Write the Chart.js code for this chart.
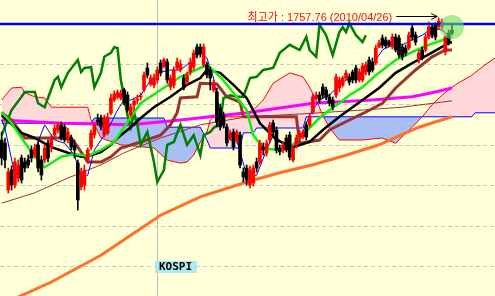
<!DOCTYPE html>
<html><head><meta charset="utf-8">
<script src="https://cdn.jsdelivr.net/npm/chart.js@4"></script>
<style>html,body{margin:0;padding:0;background:#FFFFD8;}canvas{display:block;}</style>
</head><body>
<canvas id="c" width="495" height="296"></canvas>
<script>
// ---- KOSPI daily candles (index points) ----
const open = [1605,1601.25,1542.5,1567.5,1548.75,1557.5,1582.5,1577.5,1580,1592.5,
1586.25,1598.75,1580,1580,1601.25,1595,1611.25,1617.5,1623.75,1621.25,
1605,1607.5,1598.75,1576.25,1546.25,1548.75,1580,1596.25,1611.25,1630,
1632.5,1611.25,1613.75,1638.75,1655,1658.75,1657.5,1667.5,1661.25,1636.25,
1648.75,1655,1658.75,1667.5,1695,1675,1673.75,1680,1701.25,1697.5,
1702.5,1671.25,1673.75,1695,1692.5,1682.5,1677.5,1690,1696.25,1721.25,
1721.25,1698.75,1698.75,1692.5,1667.5,1665,1645,1636.25,1621.25,1607.5,
1615,1605,1611.25,1565,1570,1548.75,1551.25,1577.5,1577.5,1596.25,
1588.75,1605,1626.25,1617.5,1595,1592.5,1607.5,1611.25,1580,1598.75,
1607.5,1608.75,1623.75,1623.75,1640,1657.5,1661.25,1671.25,1667.5,1658.75,
1655,1661.25,1670,1673.75,1682.5,1683.75,1690,1695,1680,1680,
1690,1705,1702.5,1701.25,1721.25,1732.5,1730,1727.5,1721.25,1733.75,
1732.5,1721.25,1720,1720,1745,1736.25,1705,1717.5,1717.5,1733.75,
1746.25,1748.75,1746.25,1746.25,1715,1738.75,1742.5];
const close = [1582.5,1580,1565,1548.75,1577.5,1573.75,1555,1570,1573.75,1582.5,
1595,1570,1561.25,1595,1582.5,1607.5,1620,1623.75,1607.5,1605,
1615,1596.25,1592.5,1530,1565,1567.5,1592.5,1613.75,1623.75,1627.5,
1621.25,1632.5,1633.75,1657.5,1662.5,1665,1663.75,1651.25,1642.5,1646.25,
1653.75,1656.25,1660,1686.25,1686.25,1682.5,1682.5,1692.5,1688.75,1705,
1680,1682.5,1692.5,1702.5,1700,1670,1686.25,1702.5,1713.75,1711.25,
1712.5,1721.25,1686.25,1682.5,1676.25,1627.5,1621.25,1623.75,1601.25,1613.75,
1596.25,1615,1573.75,1558.75,1555,1567.5,1570,1570,1601.25,1592.5,
1601.25,1623.75,1615,1592.5,1590,1598.75,1592.5,1583.75,1595,1607.5,
1613.75,1615,1608.75,1633.75,1658.75,1661.25,1655,1661.25,1658.75,1651.25,
1646.25,1683.75,1680,1682.5,1688.75,1677.5,1680,1680,1690,1697.5,
1698.75,1690,1692.5,1720,1726.25,1723.75,1722.5,1723.75,1733.75,1717.5,
1711.25,1708.75,1713.75,1736.25,1733.75,1727.5,1713.75,1707.5,1733.75,1746.25,
1736.25,1733.75,1753.75,1752.5,1733.75,1726.25,1738.75];
const high = [1615,1607.5,1570,1572.5,1582.5,1580,1586.25,1582.5,1586.25,1597.5,
1600,1602.5,1585,1598.75,1605,1611.25,1623.75,1627.5,1627.5,1625,
1620,1611.25,1605,1580,1570,1573.75,1595,1617.5,1627.5,1637.5,
1636.25,1636.25,1638.75,1662.5,1666.25,1667.5,1667.5,1670,1665,1650,
1657.5,1661.25,1663.75,1690,1701.25,1686.25,1687.5,1696.25,1705,1707.5,
1706.25,1686.25,1696.25,1707.5,1705,1686.25,1690,1707.5,1717.5,1725,
1725,1725,1702.5,1696.25,1680,1670,1650,1640,1625,1617.5,
1618.75,1617.5,1615,1570,1573.75,1572.5,1573.75,1582.5,1605,1601.25,
1605,1627.5,1630,1621.25,1598.75,1602.5,1611.25,1615,1598.75,1611.25,
1617.5,1617.5,1627.5,1637.5,1662.5,1665,1665,1675,1671.25,1662.5,
1658.75,1687.5,1683.75,1685,1692.5,1687.5,1692.5,1698.75,1693.75,1701.25,
1702.5,1708.75,1707.5,1723.75,1730,1736.25,1733.75,1730,1737.5,1737.5,
1736.25,1725,1723.75,1740,1748.75,1740,1717.5,1721.25,1737.5,1752.5,
1750,1751.25,1757.76,1756.25,1736.25,1742.5,1748.75];
const low = [1573.75,1570,1538.75,1542.5,1545,1552.5,1551.25,1565,1570,1577.5,
1582.5,1565,1555,1576.25,1577.5,1590,1607.5,1613.75,1605,1602.5,
1601.25,1592.5,1582.5,1517.5,1542.5,1542.5,1576.25,1592.5,1607.5,1623.75,
1617.5,1608.75,1611.25,1636.25,1652.5,1656.25,1655,1648.75,1640,1633.75,
1642.5,1650,1655,1665,1682.5,1672.5,1670,1676.25,1685,1695,
1676.25,1667.5,1670,1692.5,1690,1667.5,1673.75,1686.25,1692.5,1707.5,
1708.75,1696.25,1682.5,1667.5,1665,1621.25,1617.5,1620,1597.5,1605,
1592.5,1601.25,1570,1552.5,1548.75,1545,1547.5,1565,1573.75,1586.25,
1585,1601.25,1611.25,1588.75,1586.25,1588.75,1590,1580,1577.5,1595,
1605,1606.25,1605,1621.25,1637.5,1655,1651.25,1657.5,1655,1647.5,
1642.5,1657.5,1665,1671.25,1680,1673.75,1676.25,1676.25,1677.5,1677.5,
1686.25,1686.25,1690,1698.75,1720,1720,1720,1721.25,1718.75,1715,
1707.5,1705,1710,1717.5,1730,1723.75,1701.25,1705,1715,1731.25,
1732.5,1730,1743.75,1742.5,1711.25,1723.75,1736.25];

// ---- indicator lines: [day index, value] ----
const tenkan = [[0,1630],[1,1620],[4,1561],[7,1574],[10,1592.5],[13,1624],[16,1605],[19,1601],[22,1586],[24,1557.5],[26,1561],[28,1592.5],[32,1617.5],[35,1642.5],[37,1655],[39,1655],[42,1661],[45,1680],[48,1690],[51,1692.5],[54,1692.5],[57,1702.5],[60,1715],[62,1707.5],[64,1682.5],[66,1636],[69,1605],[71,1605],[74,1561],[77,1561],[80,1592.5],[82,1611],[84,1605],[87,1592.5],[90,1605],[93,1636],[96,1655],[99,1661],[102,1674],[105,1682.5],[109,1686],[112,1699],[115,1717.5],[118,1724],[121,1724],[124,1730],[127,1736],[130,1745],[133,1742.5],[135,1736]];
const ma20 = [[0,1640],[3,1626],[6,1607.5],[9,1590],[13,1571],[18,1584],[22,1587.5],[26,1585],[30,1592.5],[34,1602.5],[38,1627.5],[42,1651],[48,1667.5],[54,1684],[60,1695],[62,1699],[66,1684],[70,1664],[74,1642.5],[76,1611],[79,1595],[83,1592.5],[87,1595],[90,1607.5],[93,1620],[96,1632.5],[99,1642.5],[102,1651],[105,1661],[109,1671],[113,1686],[119,1705],[124,1715],[129,1724],[135,1732.5],[136,1734]];
const ma60 = [[0,1636],[6,1614],[10,1607.5],[15,1596],[20,1589],[24,1584],[27,1586],[30,1590],[33,1599],[36,1611],[39,1621],[42,1632.5],[46,1646],[51,1659],[56,1674],[60,1682.5],[62,1692.5],[66,1689],[70,1674],[74,1657.5],[78,1626],[83,1605],[88,1596],[93,1602.5],[97,1617.5],[102,1634],[109,1655],[114,1670],[119,1689],[124,1701],[129,1712],[135,1726],[136,1727.5]];
const kijun = [[0,1639],[3,1630],[7,1607.5],[21,1607.5],[23,1596],[26,1577.5],[30,1577.5],[33,1584],[36,1595],[42,1602.5],[48,1611],[51,1624],[53,1639],[54,1657.5],[59,1659],[60,1676],[65,1675],[68,1659],[72,1652.5],[73,1634],[89,1634],[90,1601],[96,1605],[99,1617.5],[105,1630],[110,1640],[115,1651],[119,1670],[125,1692.5],[130,1709],[134,1717.5],[136,1717.5]];
const chikou = [[0,1611],[3,1642.5],[6,1659],[7,1665],[10,1665],[11,1651],[13,1646],[14,1657.5],[16,1680],[17,1684],[18,1671],[20,1689],[23,1705],[24,1690],[25,1695],[27,1696],[28,1671],[30,1689],[31,1709],[33,1714],[34,1721],[35,1720],[36,1680],[38,1636],[39,1621],[40,1639],[41,1624],[42,1599],[44,1615],[46,1577.5],[47,1552.5],[49,1567.5],[50,1599],[52,1602.5],[54,1624],[56,1599],[58,1611],[59,1599],[60,1586],[61,1611],[63,1615],[64,1620],[66,1626],[67,1657.5],[69,1661],[71,1659],[73,1659],[75,1682.5],[77,1684],[79,1692.5],[82,1695],[84,1714],[87,1724],[90,1717.5],[92,1734],[93,1717.5],[95,1709],[96,1749],[98,1736],[100,1711],[102,1740],[103,1746],[104,1740],[105,1751],[107,1736],[109,1727.5],[110,1736]];
const ma120 = [[0,1630],[18,1626],[39,1624],[54,1630],[74,1639],[94,1651],[112,1655],[124,1659],[130,1664],[136,1670]];
const ma240 = [[0,1526],[10,1539],[20,1557.5],[30,1574],[37,1589],[48,1607.5],[60,1624],[74,1634],[90,1637.5],[109,1642.5],[121,1646],[136,1654]];
const ma480 = [[3,1405],[15,1427.5],[30,1461],[39,1486],[48,1511],[60,1534],[74,1552.5],[84,1564],[94,1574],[104,1586],[114,1599],[126,1621],[136,1634]];
const spanA = [[0,1655],[3,1670],[6,1671],[7,1664],[10,1659],[13,1657.5],[15,1646],[26,1646],[27,1630],[28,1624],[30,1607.5],[36,1599],[46,1595],[50,1580],[54,1576],[56,1577.5],[58,1586],[60,1602.5],[62,1615],[63,1630],[64,1634],[74,1634],[76,1642.5],[79,1655],[82,1676],[87,1689],[91,1684],[93,1671],[95,1655],[97,1636],[99,1620],[102,1605],[109,1605],[115,1607.5],[119,1601],[121,1609],[124,1621],[127,1634],[130,1649],[133,1661],[137,1674],[142,1686],[146,1699],[149,1707.5]];
const spanB = [[0,1626],[27,1626],[28,1632.5],[49,1632.5],[50,1621],[60,1621],[62,1605],[63,1595],[72,1595],[73,1614],[76,1614],[77,1620],[91,1620],[92,1634],[142,1634],[143,1639],[149,1639]];

// ---- reference values, grid ticks, labels ----
const levelLine = 1750;
const peakIdx = 132, peakValue = 1757.76, peakDate = '2010/04/26';
const peakLabel = '최고가 : ' + peakValue + ' (' + peakDate + ')';
const gridValues = [1699, 1649, 1598, 1548, 1497, 1447];
const dividerIdx = [47];
const indexName = 'KOSPI';

const pts = a => a.map(([i, v]) => ({x: i, y: v}));
const line = (arr, color, w, order, extra) => Object.assign({type: 'line', data: pts(arr), borderColor: color, borderWidth: w, pointRadius: 0, tension: 0, fill: false, order}, extra || {});
const candleColors = close.map((c, i) => c >= open[i] ? '#FF0000' : '#000000');

const annot = {
  id: 'annot',
  afterDatasetsDraw(chart) {
    const {ctx, scales: {x, y}} = chart;
    ctx.save();
    // highlight circle on last candle
    const li = close.length - 1;
    ctx.fillStyle = 'rgba(110,222,105,0.6)';
    ctx.beginPath();
    ctx.arc(x.getPixelForValue(li), y.getPixelForValue(high[li]) + 2, 12, 0, Math.PI * 2);
    ctx.fill();
    // arrow to peak
    const ax2 = x.getPixelForValue(peakIdx) - 1.5;
    const ay = Math.round(y.getPixelForValue(peakValue) - 2) + 0.5;
    const ax1 = ax2 - 41;
    ctx.strokeStyle = '#000'; ctx.lineWidth = 1;
    ctx.beginPath(); ctx.moveTo(ax1, ay); ctx.lineTo(ax2, ay);
    ctx.moveTo(ax2 - 6, ay - 3); ctx.lineTo(ax2, ay); ctx.lineTo(ax2 - 6, ay + 3);
    ctx.stroke();
    ctx.fillStyle = '#F01010';
    ctx.font = '11px "Liberation Sans", "Noto Sans CJK KR", sans-serif';
    ctx.textAlign = 'right'; ctx.textBaseline = 'middle';
    ctx.fillText(peakLabel, ax1 - 4, ay + 1.5);
    // index name box
    const bx = Math.round(x.getPixelForValue(dividerIdx[0])) - 2;
    const by = Math.round(y.getPixelForValue(gridValues[5])) - 5;
    ctx.fillStyle = '#AEE8F0';
    ctx.fillRect(bx, by, 42, 12);
    ctx.fillStyle = '#000';
    ctx.font = 'bold 11px "DejaVu Sans Mono", monospace';
    ctx.textAlign = 'left';
    ctx.fillText(indexName, bx + 4, by + 6.5);
    ctx.restore();
  }
};

new Chart(document.getElementById('c'), {
  type: 'line',
  data: {datasets: [
    line(spanB, '#0000FF', 1, 20),
    line(spanA, '#FF0000', 1, 19, {fill: {target: 0, above: '#FFD8DA', below: '#A8BEF5'}}),
    line(ma240, '#993333', 1, 18),
    line(ma480, '#FF7028', 3, 17),
    line(ma120, '#FF00FF', 3, 16),
    line(kijun, '#993333', 3, 15),
    line(chikou, '#008000', 2.5, 14),
    line(tenkan, '#0000FF', 1, 13),
    line(ma60, '#000000', 2.5, 12),
    line(ma20, '#11EE11', 2.5, 11),
    {type: 'bar', data: open.map((o, i) => ({x: i, y: [low[i], high[i]]})), backgroundColor: candleColors, barThickness: 1, grouped: false, order: 6},
    {type: 'bar', data: open.map((o, i) => ({x: i, y: [o, close[i]]})), backgroundColor: candleColors, barThickness: 3, minBarLength: 1, grouped: false, order: 5},
    line([[-0.5, levelLine], [149, levelLine]], '#0000E6', 2.5, 3)
  ]},
  options: {
    responsive: false, devicePixelRatio: 1, animation: false,
    layout: {padding: 0, autoPadding: false},
    plugins: {legend: {display: false}, tooltip: {enabled: false}, filler: {drawTime: 'beforeDatasetsDraw'}},
    scales: {
      x: {type: 'linear', min: -0.5, max: 149, offset: false,
          afterBuildTicks: s => { s.ticks = dividerIdx.map(v => ({value: v})); },
          ticks: {display: false}, grid: {color: '#BDBDBD', lineWidth: 1, drawTicks: false, offset: false},
          border: {display: false}},
      y: {type: 'linear', min: 1410, max: 1780,
          afterBuildTicks: s => { s.ticks = gridValues.map(v => ({value: v})); },
          ticks: {display: false}, grid: {color: '#C8C8C8', lineWidth: 1, drawTicks: false},
          border: {display: false, dash: [4, 3]}}
    }
  },
  plugins: [annot]
});
</script></body></html>
